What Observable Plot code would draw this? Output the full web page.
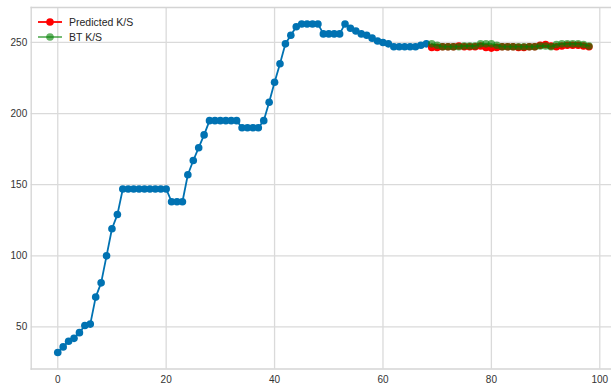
<!DOCTYPE html>
<html><head><meta charset="utf-8">
<script src="https://cdn.jsdelivr.net/npm/d3@7"></script>
<script src="https://cdn.jsdelivr.net/npm/@observablehq/plot@0.6"></script>
<style>
body{margin:0;background:#fff;font-family:"Liberation Sans",Arial,sans-serif}
#wrap{position:relative;width:611px;height:389px;overflow:hidden}
#legend{position:absolute;left:38px;top:14px;font-size:10.5px;color:#262626}
#legend .row{display:flex;align-items:center;height:15px}
#legend svg{margin-right:7px}
</style>
</head><body><div id="wrap"><div id="legend"></div></div>
<script>
const historyValues = [32,36,40,42,46,51,52,71,81,100,119,129,
  147,147,147,147,147,147,147,147,147,
  138,138,138,
  157,167,176,185,
  195,195,195,195,195,195,
  190,190,190,190,
  195,208,222,235,249,255,261,
  263,263,263,263,
  256,256,256,256,
  263,260,258,256,255,253,251,250,249,
  247,247,247,247,247,
  248,249];
const predictedStart = 69;
const predictedValues = [246.5,246.5,247,247,247,247.5,247,247,247,247.5,246.5,246,246.5,247,247,247,246.5,246.5,247,247,248,248.5,247.5,247,247.5,248,248,248,247.5,247];
const btValues = [249,248,247,247,247,247,247.5,247.5,247.5,249,249,249,248,247,247,247,247,247,247,247,247.5,247.5,247,248.5,249,249,249,249,248.5,247.5];
const seriesNames = ["Predicted K/S","BT K/S"];
const seriesColors = ["red","green"];
const xTicks = [0,20,40,60,80,100];
const yTicks = [50,100,150,200,250];

const hist = historyValues.map((v,i)=>({x:i,y:v}));
const pred = predictedValues.map((v,i)=>({x:predictedStart+i,y:v}));
const bt = btValues.map((v,i)=>({x:predictedStart+i,y:v}));

const blue = "#0072B2";
const gridColor = "#dadada";

const chart = Plot.plot({
  width:611, height:389,
  marginLeft:30.7, marginRight:0, marginTop:7, marginBottom:20.5,
  style:{fontFamily:"'Liberation Sans', Arial, sans-serif", fontSize:"10px", color:"#333", background:"#fff"},
  x:{domain:[-4.9,102.16]},
  y:{domain:[20.45,274.55]},
  marks:[
    Plot.gridX(xTicks,{stroke:gridColor,strokeOpacity:1,strokeWidth:1.3}),
    Plot.gridY(yTicks,{stroke:gridColor,strokeOpacity:1,strokeWidth:1.3}),
    Plot.frame({anchor:"left",stroke:"#d4d4d4",strokeWidth:1.3}),
    Plot.frame({anchor:"top",stroke:"#d4d4d4",strokeWidth:1.3}),
    Plot.frame({anchor:"bottom",stroke:"#d4d4d4",strokeWidth:1.3}),
    Plot.axisX({ticks:xTicks,tickSize:0,tickPadding:7,label:null,fill:"#333"}),
    Plot.axisY({ticks:yTicks,tickSize:0,tickPadding:4,label:null,fill:"#333"}),
    Plot.line(hist,{x:"x",y:"y",stroke:blue,strokeWidth:1.8}),
    Plot.dot(hist,{x:"x",y:"y",fill:blue,r:3.8}),
    Plot.line(pred,{x:"x",y:"y",stroke:seriesColors[0],strokeWidth:1.8}),
    Plot.dot(pred,{x:"x",y:"y",fill:seriesColors[0],r:3.8}),
    Plot.line(bt,{x:"x",y:"y",stroke:seriesColors[1],strokeWidth:1.8,strokeOpacity:0.6}),
    Plot.dot(bt,{x:"x",y:"y",fill:seriesColors[1],fillOpacity:0.6,r:3.8})
  ]
});
document.getElementById("wrap").appendChild(chart);
chart.style.position="absolute"; chart.style.left="0"; chart.style.top="0";
const legend = document.getElementById("legend");
legend.style.zIndex = 2;
seriesNames.forEach((name,i)=>{
  const row = document.createElement("div");
  row.className="row";
  const op = i===1?0.6:1;
  row.innerHTML = `<svg width="24" height="10"><line x1="0" y1="5" x2="24" y2="5" stroke="${seriesColors[i]}" stroke-opacity="${op}" stroke-width="1.8"/><circle cx="12" cy="5" r="3.8" fill="${seriesColors[i]}" fill-opacity="${op}"/></svg><span>${name}</span>`;
  legend.appendChild(row);
});
</script>
</body></html>
